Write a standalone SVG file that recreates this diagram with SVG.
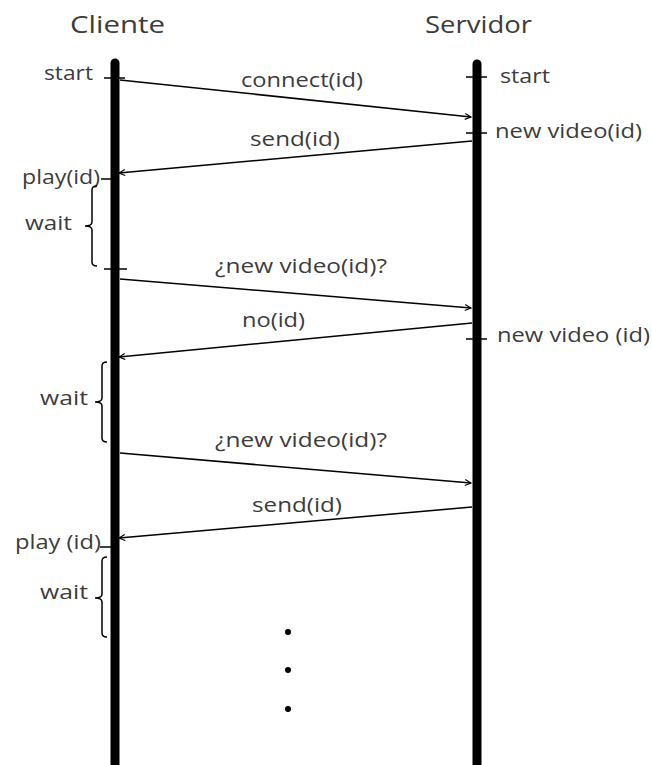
<svg xmlns="http://www.w3.org/2000/svg" width="652" height="765" viewBox="0 0 652 765">
  <style>
    .title { font-family: "Open Sans", "DejaVu Sans", sans-serif; font-size: 24px; fill: #3c3c3c; }
    .lbl { font-family: "Open Sans", "DejaVu Sans", sans-serif; font-size: 20px; fill: #3c3c3c; }
    .life { stroke: #000; stroke-width: 9; stroke-linecap: round; }
    .tick { stroke: #000; stroke-width: 1.5; fill: none; }
    .msg { stroke: #000; stroke-width: 1.5; fill: none; marker-end: url(#head); }
    .brace { stroke: #000; stroke-width: 1.5; fill: none; }
  </style>
  <defs>
    <marker id="head" viewBox="0 0 8 8" refX="7" refY="4" markerWidth="8" markerHeight="8" markerUnits="userSpaceOnUse" orient="auto">
      <path d="M1,1 L7,4 L1,7" fill="none" stroke="#000" stroke-width="1.2"/>
    </marker>
  </defs>
  <rect width="652" height="765" fill="#fff"/>

  <!-- Client lifeline -->
  <g id="cliente">
    <text class="title" x="70" y="33" textLength="95" lengthAdjust="spacingAndGlyphs">Cliente</text>
    <line class="life" x1="115" y1="63" x2="115" y2="770"/>
    <text class="lbl" x="44" y="80" textLength="49" lengthAdjust="spacingAndGlyphs">start</text>
    <line class="tick" x1="104" y1="78" x2="125" y2="78"/>
    <text class="lbl" x="22" y="184" textLength="78" lengthAdjust="spacingAndGlyphs">play(id)</text>
    <line class="tick" x1="101" y1="179" x2="118" y2="179"/>
    <line class="tick" x1="104" y1="269" x2="127" y2="269"/>
    <text class="lbl" x="15" y="549" textLength="86" lengthAdjust="spacingAndGlyphs">play (id)</text>
    <line class="tick" x1="100" y1="547" x2="117" y2="547"/>
  </g>

  <!-- Server lifeline -->
  <g id="servidor">
    <text class="title" x="425" y="33" textLength="107" lengthAdjust="spacingAndGlyphs">Servidor</text>
    <line class="life" x1="477" y1="64" x2="477" y2="770"/>
    <line class="tick" x1="466" y1="77" x2="487" y2="77"/>
    <text class="lbl" x="500" y="83" textLength="50" lengthAdjust="spacingAndGlyphs">start</text>
    <line class="tick" x1="466" y1="133" x2="487" y2="133"/>
    <text class="lbl" x="495" y="138" textLength="147" lengthAdjust="spacingAndGlyphs">new video(id)</text>
    <line class="tick" x1="466" y1="339" x2="487" y2="339"/>
    <text class="lbl" x="497" y="342" textLength="153" lengthAdjust="spacingAndGlyphs">new video (id)</text>
  </g>

  <!-- Waiting periods on the client side -->
  <g id="wait1">
    <path class="brace" d="M97,186 Q92,186 92,190 V222 Q92,226 85,226 Q92,226 92,230 V262 Q92,266 97,266"/>
    <text class="lbl" x="25" y="230" textLength="47" lengthAdjust="spacingAndGlyphs">wait</text>
  </g>
  <g id="wait2">
    <path class="brace" d="M107,362 Q102,362 102,366 V398 Q102,402 95,402 Q102,402 102,406 V438 Q102,442 107,442"/>
    <text class="lbl" x="40" y="405" textLength="48" lengthAdjust="spacingAndGlyphs">wait</text>
  </g>
  <g id="wait3">
    <path class="brace" d="M107,557 Q102,557 102,561 V594 Q102,598 95,598 Q102,598 102,602 V633 Q102,637 107,637"/>
    <text class="lbl" x="40" y="599" textLength="48" lengthAdjust="spacingAndGlyphs">wait</text>
  </g>

  <!-- Messages -->
  <g id="connectors">
    <line class="msg" x1="120" y1="80" x2="471" y2="117"/>
    <line class="msg" x1="472" y1="141" x2="119" y2="173"/>
    <line class="msg" x1="120" y1="279" x2="471" y2="308"/>
    <line class="msg" x1="472" y1="323" x2="119" y2="357"/>
    <line class="msg" x1="120" y1="453" x2="471" y2="483"/>
    <line class="msg" x1="472" y1="507" x2="119" y2="538"/>
  </g>

  <!-- Message labels -->
  <g id="labels">
    <text class="lbl" x="241" y="87" textLength="122" lengthAdjust="spacingAndGlyphs">connect(id)</text>
    <text class="lbl" x="250" y="146" textLength="90" lengthAdjust="spacingAndGlyphs">send(id)</text>
    <text class="lbl" x="215" y="273" textLength="172" lengthAdjust="spacingAndGlyphs">¿new video(id)?</text>
    <text class="lbl" x="242" y="327" textLength="63" lengthAdjust="spacingAndGlyphs">no(id)</text>
    <text class="lbl" x="215" y="447" textLength="172" lengthAdjust="spacingAndGlyphs">¿new video(id)?</text>
    <text class="lbl" x="252" y="512" textLength="90" lengthAdjust="spacingAndGlyphs">send(id)</text>
  </g>

  <!-- Continuation dots -->
  <g id="ellipsis" fill="#000">
    <circle cx="288" cy="632" r="3"/>
    <circle cx="288" cy="670" r="3"/>
    <circle cx="288" cy="709" r="3"/>
  </g>
</svg>
